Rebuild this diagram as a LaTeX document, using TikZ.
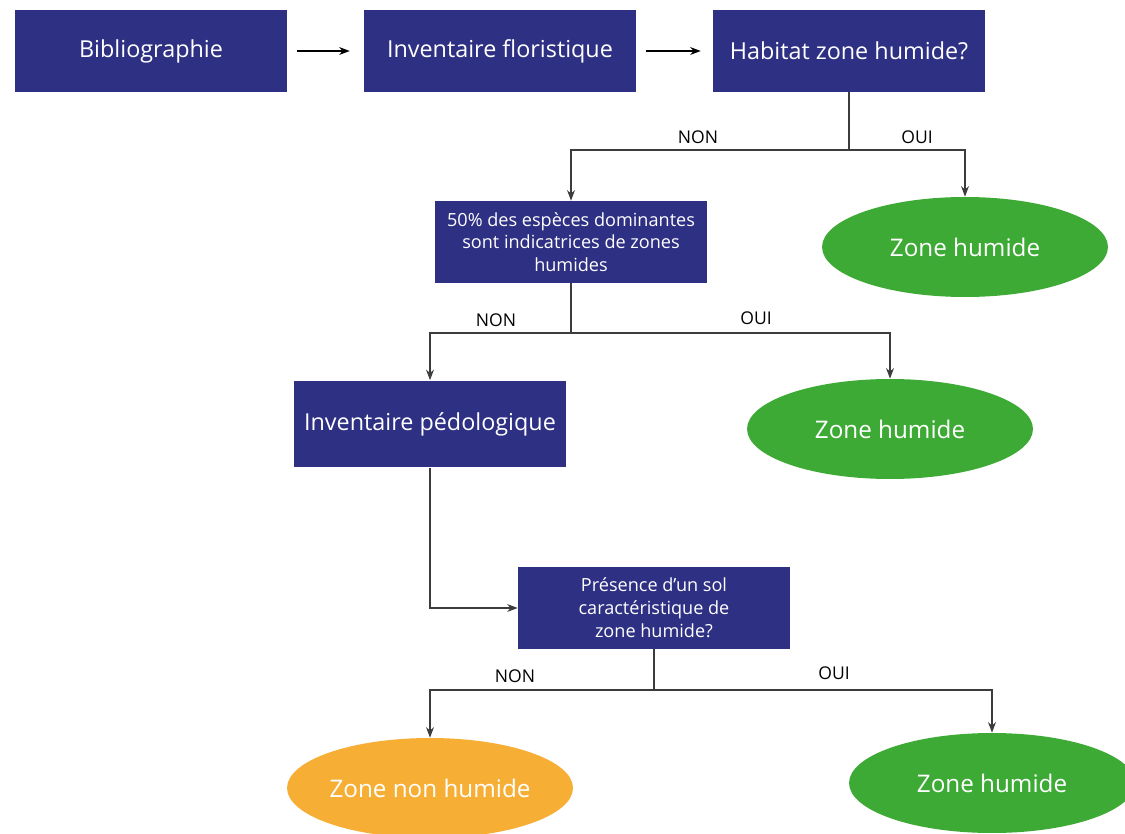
\documentclass[tikz,border=0pt]{standalone}
\usepackage{fontspec}
\setmainfont{Open Sans}
\usetikzlibrary{shapes.geometric,arrows.meta}
\definecolor{navy}{RGB}{46,48,131}
\definecolor{leaf}{RGB}{62,170,54}
\definecolor{amber}{RGB}{246,174,52}
\definecolor{wire}{RGB}{60,60,60}

\begin{document}
\begin{tikzpicture}[x=0.02cm,y=-0.02cm,
    etape/.style={rectangle, fill=navy, text=white, inner sep=2pt, minimum width=5.44cm, minimum height=1.64cm, align=center, font=\fontsize{13.3}{16}\selectfont},
    petite/.style={font=\fontsize{10.3}{13}\selectfont},
    zone/.style={ellipse, fill=leaf, text=white, inner sep=0pt, minimum width=5.72cm, minimum height=2cm, font=\fontsize{13.8}{16}\selectfont},
    seche/.style={zone, fill=amber},
    trait/.style={draw=wire, line width=0.6pt},
    fleche/.style={trait, -{Stealth[length=6pt,width=4.5pt]}},
    reponse/.style={font=\fontsize{10}{12}\selectfont}]
          \clip (0,0) rectangle (1125,834);
          \node[etape] (biblio) at (151,51) {Bibliographie};
          \node[etape] (flore) at (500,51) {Inventaire floristique};
          \node[etape] (habitat) at (849,51) {Habitat zone humide?};
          \node[etape,petite] (especes) at (571,242) {50\% des espèces dominantes\\sont indicatrices de zones\\humides};
          \node[zone] (zh1) at (965,247) {Zone humide};
          \node[etape,minimum height=1.74cm] (pedo) at (430,424) {Inventaire pédologique};
          \node[zone] (zh2) at (890,429) {Zone humide};
          \node[etape,petite] (sol) at (654,608) {Présence d’un sol\\caractéristique de\\zone humide?};
          \node[seche] (znh) at (430,788) {Zone non humide};
          \node[zone] (zh3) at (992,783) {Zone humide};
          \coordinate (f1) at (849,150);
          \coordinate (f2) at (571,333);
          \coordinate (f3) at (654,690);
          \node[reponse] (non1) at (698,137) {NON};
          \node[reponse] (oui1) at (917,137) {OUI};
          \node[reponse] (non2) at (496,320) {NON};
          \node[reponse] (oui2) at (756,318) {OUI};
          \node[reponse] (non3) at (515,676) {NON};
          \node[reponse] (oui3) at (834,673) {OUI};
          \draw[fleche,draw=black,shorten <=0.2cm,shorten >=0.28cm] (biblio) -- (flore);
          \draw[fleche,draw=black,shorten <=0.2cm,shorten >=0.24cm] (flore) -- (habitat);
          \draw[trait] (habitat.south) -- (f1);
          \draw[fleche] (f1) -| (especes.north);
          \draw[fleche] (f1) -| (zh1.north);
          \draw[trait] (especes.south) -- (f2);
          \draw[fleche] (f2) -| (pedo.north);
          \draw[fleche] (f2) -| (zh2.north);
          \draw[fleche] (pedo.south) |- (sol.west);
          \draw[trait] (sol.south) -- (f3);
          \draw[fleche] (f3) -| (znh.north);
          \draw[fleche] (f3) -| (zh3.north);
        \end{tikzpicture}
\end{document}
